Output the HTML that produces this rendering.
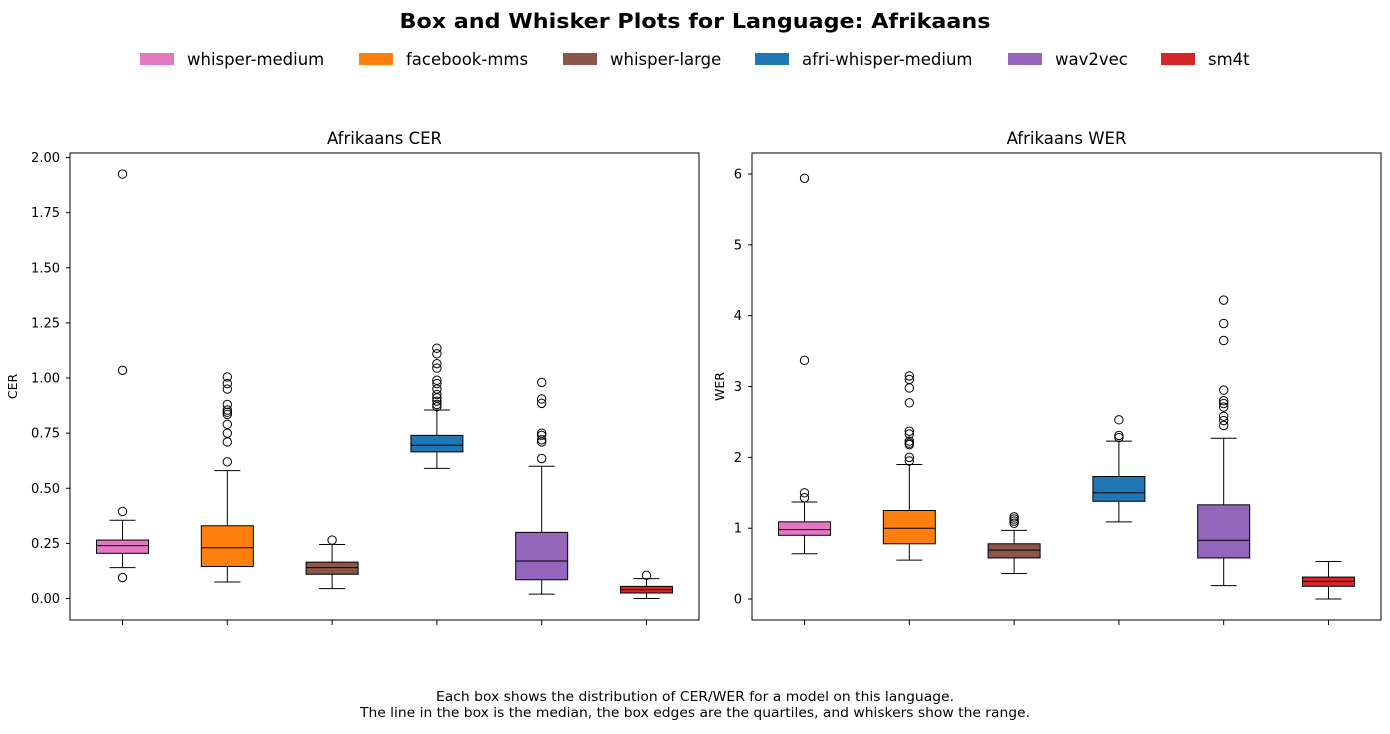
<!DOCTYPE html>
<html><head><meta charset="utf-8"><style>
body{margin:0;background:#fff;font-family:"DejaVu Sans",sans-serif;}
</style></head><body>
<svg id="svg" width="1390" height="730" xmlns="http://www.w3.org/2000/svg" font-family="DejaVu Sans, sans-serif">
<text x="695" y="28" text-anchor="middle" font-size="20" font-weight="bold" textLength="591" lengthAdjust="spacingAndGlyphs">Box and Whisker Plots for Language: Afrikaans</text>
<g id="legend"></g>
<g id="p1"></g>
<g id="p2"></g>
<text x="695" y="701" text-anchor="middle" font-size="13" textLength="518" lengthAdjust="spacingAndGlyphs">Each box shows the distribution of CER/WER for a model on this language.</text>
<text x="695" y="717" text-anchor="middle" font-size="13" textLength="670" lengthAdjust="spacingAndGlyphs">The line in the box is the median, the box edges are the quartiles, and whiskers show the range.</text>
</svg>
<script>
const models=["whisper-medium","facebook-mms","whisper-large","afri-whisper-medium","wav2vec","sm4t"];
const colors=["#e377c2","#ff7f0e","#8c564b","#1f77b4","#9467bd","#d62728"];
// [low, q1, median, q3, high]
const cerStats=[[0.14,0.205,0.24,0.265,0.355],[0.075,0.145,0.23,0.33,0.58],[0.045,0.11,0.14,0.165,0.245],[0.59,0.665,0.695,0.74,0.855],[0.02,0.085,0.17,0.30,0.60],[0.0,0.025,0.04,0.055,0.09]];
const cerOutliers=[[1.925,1.035,0.395,0.095],[0.62,0.71,0.75,0.79,0.835,0.845,0.855,0.88,0.95,0.975,1.005],[0.265],[0.87,0.88,0.895,0.91,0.925,0.95,0.975,0.99,1.045,1.065,1.11,1.135],[0.635,0.71,0.72,0.74,0.75,0.885,0.905,0.98],[0.105]];
const werStats=[[0.64,0.9,0.98,1.09,1.37],[0.55,0.78,1.0,1.25,1.9],[0.36,0.58,0.69,0.78,0.97],[1.09,1.38,1.5,1.73,2.23],[0.19,0.58,0.83,1.33,2.27],[0.0,0.18,0.25,0.31,0.53]];
const werOutliers=[[1.43,1.5,3.37,5.94],[1.95,2.0,2.18,2.2,2.23,2.33,2.37,2.77,2.98,3.1,3.15],[1.07,1.1,1.13,1.16],[2.28,2.31,2.53],[2.45,2.52,2.58,2.71,2.76,2.8,2.95,3.65,3.89,4.22],[]];
const cerTicks=[0,0.25,0.5,0.75,1.0,1.25,1.5,1.75,2.0];
const cerTickLabels=["0.00","0.25","0.50","0.75","1.00","1.25","1.50","1.75","2.00"];
const werTicks=[0,1,2,3,4,5,6];
const werTickLabels=["0","1","2","3","4","5","6"];
const NS="http://www.w3.org/2000/svg";
function mk(p,t,a){const e=document.createElementNS(NS,t);for(const k in a)e.setAttribute(k,a[k]);p.appendChild(e);return e;}
const lg=document.getElementById('legend');
const lx=[140,359,563,755,1008,1161];
models.forEach((m,i)=>{
 const r=mk(lg,'rect',{x:lx[i],y:53,width:34,height:12,fill:colors[i]});
 
 
 const t=mk(lg,'text',{x:lx[i]+47,y:65,'font-size':16.5});t.textContent=m;
 
 
});
function panel(g,x0,x1,yTop,yBot,vMin,vMax,stats,outs,ticks,labels,title,ylab,key){
 const y=v=>yBot-(v-vMin)/(vMax-vMin)*(yBot-yTop);
 const xc=i=>x0+(x1-x0)*(0.0835+i*0.1666);
 const bw=52;
 ticks.forEach((v,i)=>{
  mk(g,'line',{x1:x0-4,x2:x0,y1:y(v),y2:y(v),stroke:'#000'});
  const t=mk(g,'text',{x:x0-10,y:y(v)+4.5,'text-anchor':'end','font-size':13});t.textContent=labels[i];
  
  
 });
 stats.forEach((s,i)=>{
  const c=xc(i);
  mk(g,'line',{x1:c,x2:c,y1:yBot,y2:yBot+5,stroke:'#000'});
  mk(g,'line',{x1:c,x2:c,y1:y(s[0]),y2:y(s[1]),stroke:'#000'});
  mk(g,'line',{x1:c,x2:c,y1:y(s[3]),y2:y(s[4]),stroke:'#000'});
  mk(g,'line',{x1:c-13,x2:c+13,y1:y(s[0]),y2:y(s[0]),stroke:'#000'});
  mk(g,'line',{x1:c-13,x2:c+13,y1:y(s[4]),y2:y(s[4]),stroke:'#000'});
  const b=mk(g,'rect',{x:c-bw/2,y:y(s[3]),width:bw,height:y(s[1])-y(s[3]),fill:colors[i],stroke:'#000'});
  
  
  mk(g,'line',{x1:c-bw/2,x2:c+bw/2,y1:y(s[2]),y2:y(s[2]),stroke:'#000'});
  outs[i].forEach(v=>{
   const o=mk(g,'circle',{cx:c,cy:y(v),r:4.2,fill:'none',stroke:'#000'});
   
   
  });
 });
 mk(g,'rect',{x:x0,y:yTop,width:x1-x0,height:yBot-yTop,fill:'none',stroke:'#000'});
 const t=mk(g,'text',{x:(x0+x1)/2,y:yTop-9,'text-anchor':'middle','font-size':16.5});t.textContent=title;
 
 
 const yl=mk(g,'text',{x:0,y:0,'text-anchor':'middle','font-size':12.5,transform:`translate(${x0-53},${(yTop+yBot)/2}) rotate(-90)`});yl.textContent=ylab;
 if(key==='wer')yl.setAttribute('transform',`translate(${x0-28},${(yTop+yBot)/2}) rotate(-90)`);
 
 
}
panel(document.getElementById('p1'),70,699,153,620,-0.0975,2.0206,cerStats,cerOutliers,cerTicks,cerTickLabels,'Afrikaans CER','CER','cer');
panel(document.getElementById('p2'),752,1381,153,620,-0.296,6.297,werStats,werOutliers,werTicks,werTickLabels,'Afrikaans WER','WER','wer');
</script>
</body></html>
